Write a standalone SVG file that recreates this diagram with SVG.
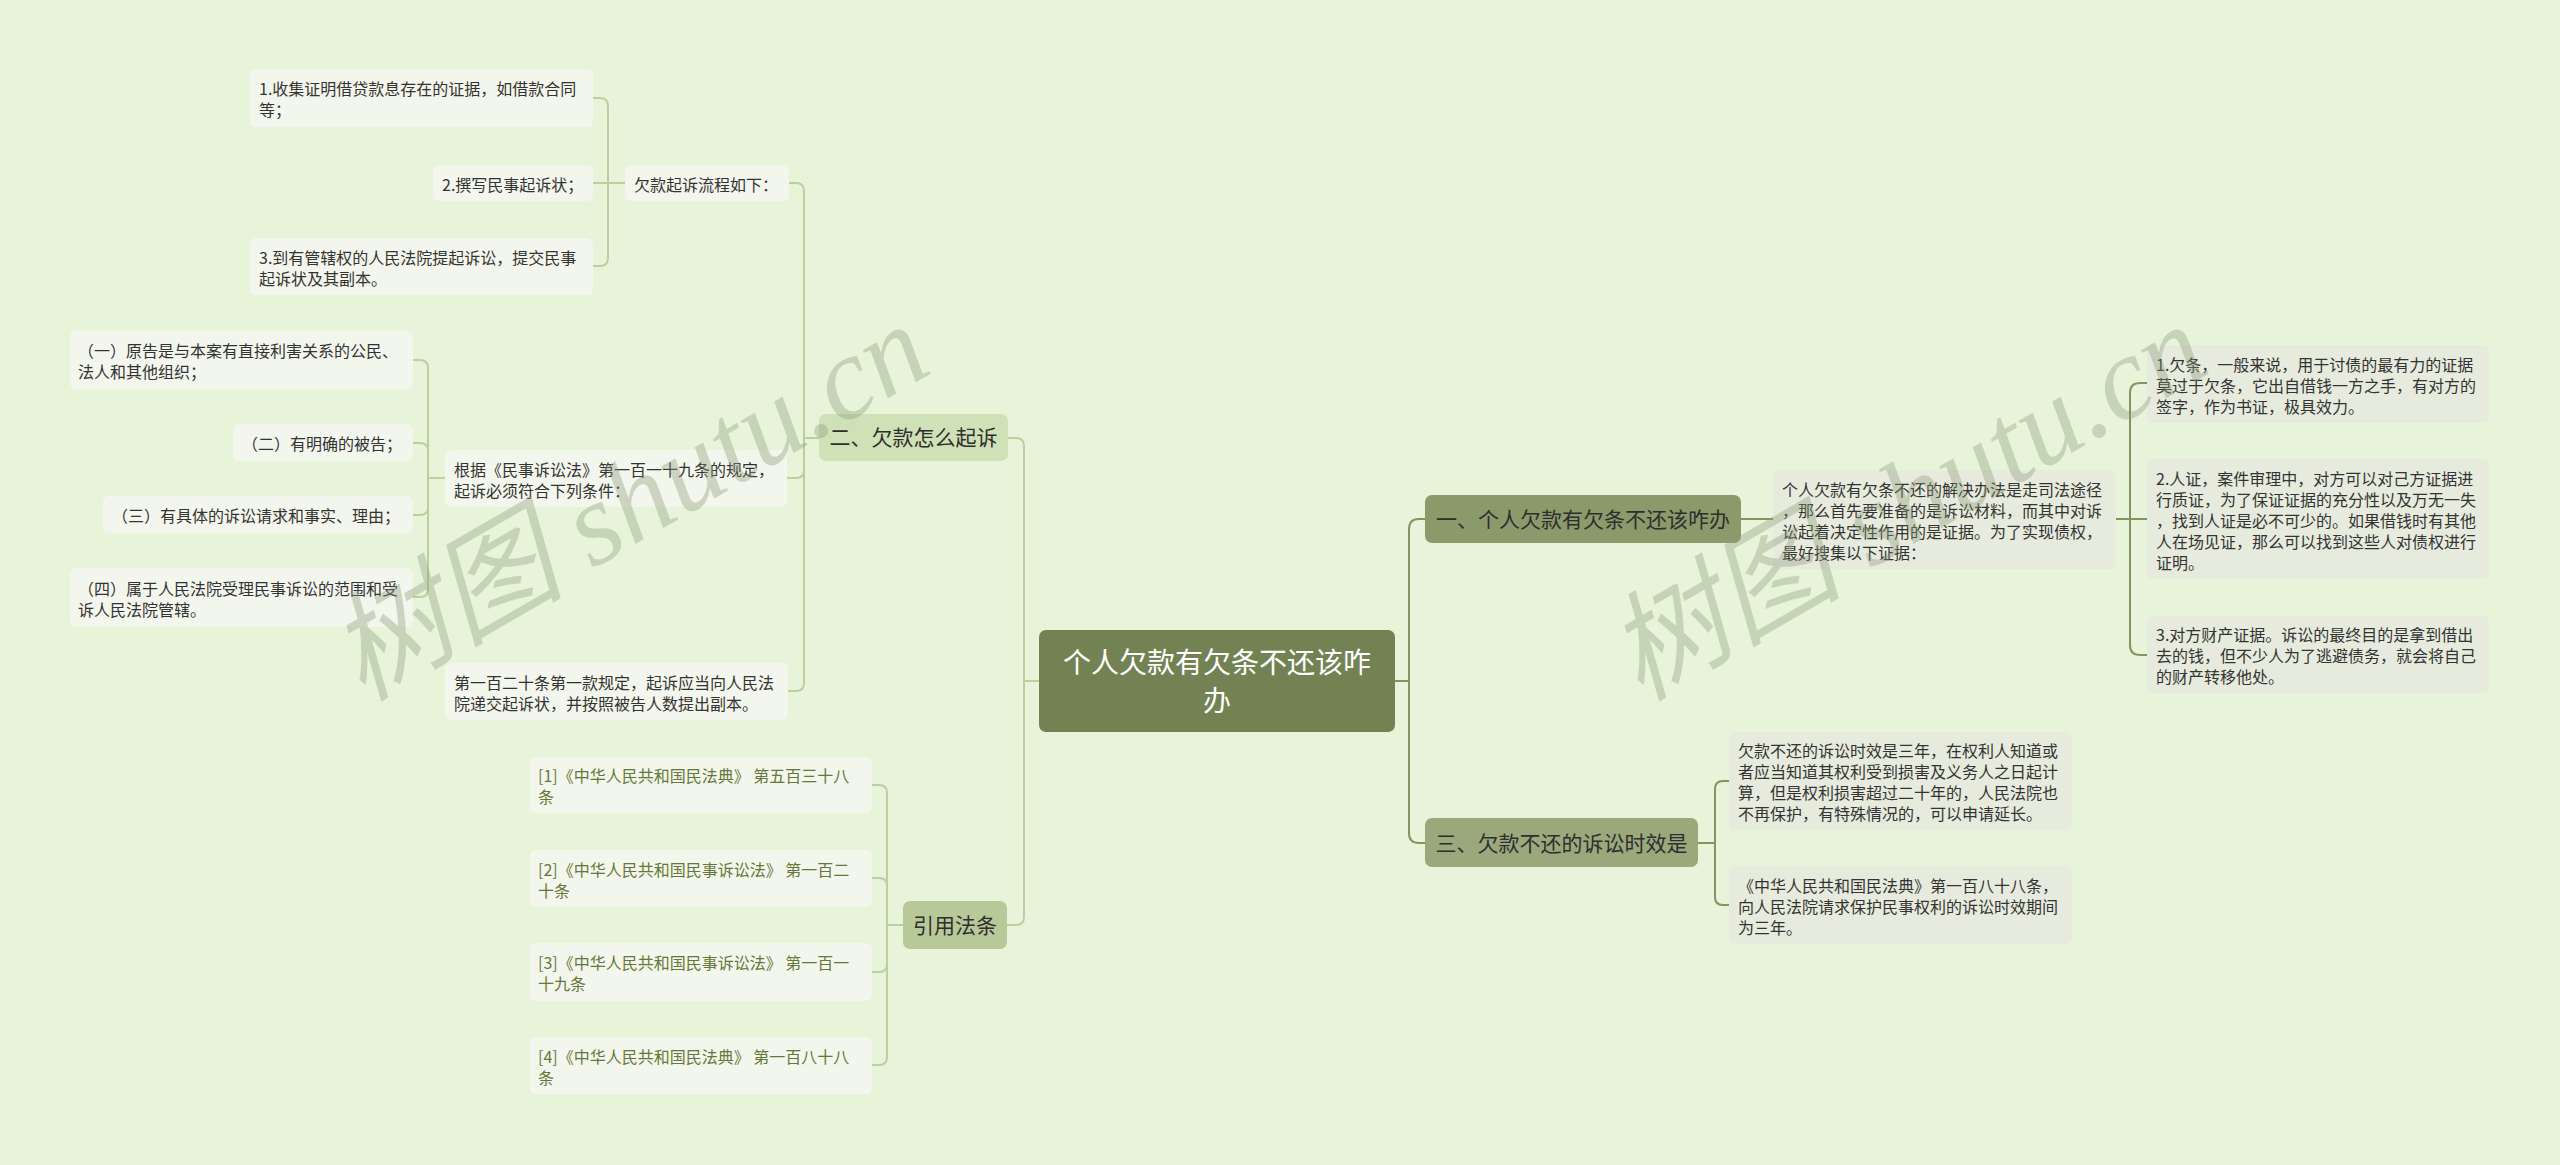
<svg xmlns="http://www.w3.org/2000/svg" width="2560" height="1165" viewBox="0 0 2560 1165">
<style>
text{font-family:"Noto Sans CJK SC","Noto Sans",sans-serif;}
.bg{fill:#e8f4da;}
.cl{fill:none;stroke:#bccf9f;stroke-width:2;}
.cr{fill:none;stroke:#84935f;stroke-width:2;}
.leafL{fill:#f3f6ec;}
.leafR{fill:#e7ebdd;}
.t16{font-size:16px;fill:#333333;}
.ref{font-size:16px;fill:#667838;}
.t21{font-size:21px;fill:#2e2e2e;text-anchor:middle;}
.root{font-size:28px;fill:#ffffff;text-anchor:middle;}
.wm{font-family:"Liberation Serif","Noto Sans CJK SC",serif;font-style:italic;font-size:118px;fill:#8a9a78;opacity:0.36;}
</style>
<rect class="bg" x="0" y="0" width="2560" height="1165"/>
<g id="connectors">
<path class="cr" d="M1395,681 H1409 V529 Q1409,519 1419,519 H1425"/>
<path class="cr" d="M1395,681 H1409 V833 Q1409,843 1419,843 H1425"/>
<path class="cr" d="M1741,519 H1773"/>
<path class="cr" d="M2116,519 H2130 V393 Q2130,383 2140,383 H2147"/>
<path class="cr" d="M2116,519 H2147"/>
<path class="cr" d="M2116,519 H2130 V645 Q2130,655 2140,655 H2147"/>
<path class="cr" d="M1698,843 H1715 V789 Q1715,781 1723,781 H1729"/>
<path class="cr" d="M1698,843 H1715 V897 Q1715,905 1723,905 H1729"/>
<path class="cl" d="M1039,681 H1024 V446 Q1024,438 1016,438 H1008"/>
<path class="cl" d="M1039,681 H1024 V917 Q1024,925 1016,925 H1007"/>
<path class="cl" d="M819,438 H804 V191 Q804,183 796,183 H789"/>
<path class="cl" d="M819,438 H804 V470 Q804,478 796,478 H787"/>
<path class="cl" d="M819,438 H804 V683 Q804,691 796,691 H788"/>
<path class="cl" d="M625,183 H608 V106 Q608,98 600,98 H593"/>
<path class="cl" d="M625,183 H593"/>
<path class="cl" d="M625,183 H608 V258 Q608,266 600,266 H593"/>
<path class="cl" d="M445,478 H428 V368 Q428,360 420,360 H413"/>
<path class="cl" d="M445,478 H428 V451 Q428,443 420,443 H413"/>
<path class="cl" d="M445,478 H428 V507 Q428,515 420,515 H413"/>
<path class="cl" d="M445,478 H428 V589 Q428,597 420,597 H413"/>
<path class="cl" d="M903,925 H887 V793 Q887,785 879,785 H872"/>
<path class="cl" d="M903,925 H887 V886 Q887,878 879,878 H872"/>
<path class="cl" d="M903,925 H887 V964 Q887,972 879,972 H872"/>
<path class="cl" d="M903,925 H887 V1057 Q887,1065 879,1065 H872"/>
</g>
<g id="root">
<rect x="1039" y="630" width="356" height="102" rx="7" fill="#738253"/>
<text class="root" x="1217" y="673">个人欠款有欠条不还该咋</text>
<text class="root" x="1217" y="711">办</text>
</g>
<g id="b1">
<rect x="1425" y="495" width="316" height="48" rx="7" fill="#8b9a6b"/>
<text class="t21" x="1583" y="527">一、个人欠款有欠条不还该咋办</text>
</g>
<g id="b3">
<rect x="1425" y="818" width="273" height="49" rx="7" fill="#9aa87c"/>
<text class="t21" x="1561.5" y="850.5">三、欠款不还的诉讼时效是</text>
</g>
<g id="b2">
<rect x="819" y="414" width="189" height="47" rx="7" fill="#cfe1b6"/>
<text class="t21" x="913.5" y="445">二、欠款怎么起诉</text>
</g>
<g id="b4">
<rect x="903" y="901" width="104" height="48" rx="7" fill="#b7c899"/>
<text class="t21" x="955" y="932.5">引用法条</text>
</g>
<g id="c0">
<rect class="leafR" x="1773" y="470" width="343" height="99" rx="6"/>
<text class="t16" x="1782" y="495.5">个人欠款有欠条不还的解决办法是走司法途径</text>
<text class="t16" x="1782" y="516.5">，那么首先要准备的是诉讼材料，而其中对诉</text>
<text class="t16" x="1782" y="537.5">讼起着决定性作用的是证据。为了实现债权，</text>
<text class="t16" x="1782" y="558.5">最好搜集以下证据：</text>
</g>
<g id="r1">
<rect class="leafR" x="2147" y="345" width="342" height="78" rx="6"/>
<text class="t16" x="2156" y="370.5">1.欠条，一般来说，用于讨债的最有力的证据</text>
<text class="t16" x="2156" y="391.5">莫过于欠条，它出自借钱一方之手，有对方的</text>
<text class="t16" x="2156" y="412.5">签字，作为书证，极具效力。</text>
</g>
<g id="r2">
<rect class="leafR" x="2147" y="459" width="342" height="120" rx="6"/>
<text class="t16" x="2156" y="484.5">2.人证，案件审理中，对方可以对己方证据进</text>
<text class="t16" x="2156" y="505.5">行质证，为了保证证据的充分性以及万无一失</text>
<text class="t16" x="2156" y="526.5">，找到人证是必不可少的。如果借钱时有其他</text>
<text class="t16" x="2156" y="547.5">人在场见证，那么可以找到这些人对债权进行</text>
<text class="t16" x="2156" y="568.5">证明。</text>
</g>
<g id="r3">
<rect class="leafR" x="2147" y="616" width="342" height="77" rx="6"/>
<text class="t16" x="2156" y="641">3.对方财产证据。诉讼的最终目的是拿到借出</text>
<text class="t16" x="2156" y="662">去的钱，但不少人为了逃避债务，就会将自己</text>
<text class="t16" x="2156" y="683">的财产转移他处。</text>
</g>
<g id="ra">
<rect class="leafR" x="1729" y="732" width="343" height="98" rx="6"/>
<text class="t16" x="1738" y="757">欠款不还的诉讼时效是三年，在权利人知道或</text>
<text class="t16" x="1738" y="778">者应当知道其权利受到损害及义务人之日起计</text>
<text class="t16" x="1738" y="799">算，但是权利损害超过二十年的，人民法院也</text>
<text class="t16" x="1738" y="820">不再保护，有特殊情况的，可以申请延长。</text>
</g>
<g id="rb">
<rect class="leafR" x="1729" y="866" width="343" height="78" rx="6"/>
<text class="t16" x="1738" y="891.5">《中华人民共和国民法典》第一百八十八条，</text>
<text class="t16" x="1738" y="912.5">向人民法院请求保护民事权利的诉讼时效期间</text>
<text class="t16" x="1738" y="933.5">为三年。</text>
</g>
<g id="n1">
<rect class="leafL" x="625" y="165" width="164" height="36" rx="6"/>
<text class="t16" x="634" y="190.5">欠款起诉流程如下：</text>
</g>
<g id="l1">
<rect class="leafL" x="250" y="69" width="343" height="58" rx="6"/>
<text class="t16" x="259" y="95">1.收集证明借贷款息存在的证据，如借款合同</text>
<text class="t16" x="259" y="116">等；</text>
</g>
<g id="l2">
<rect class="leafL" x="433" y="165" width="160" height="36" rx="6"/>
<text class="t16" x="442" y="190.5">2.撰写民事起诉状；</text>
</g>
<g id="l3">
<rect class="leafL" x="250" y="238" width="343" height="57" rx="6"/>
<text class="t16" x="259" y="263.5">3.到有管辖权的人民法院提起诉讼，提交民事</text>
<text class="t16" x="259" y="284.5">起诉状及其副本。</text>
</g>
<g id="n2">
<rect class="leafL" x="445" y="450" width="342" height="57" rx="6"/>
<text class="t16" x="454" y="475.5">根据《民事诉讼法》第一百一十九条的规定，</text>
<text class="t16" x="454" y="496.5">起诉必须符合下列条件：</text>
</g>
<g id="k1">
<rect class="leafL" x="70" y="331" width="343" height="58" rx="6"/>
<text class="t16" x="78" y="357">（一）原告是与本案有直接利害关系的公民、</text>
<text class="t16" x="78" y="378">法人和其他组织；</text>
</g>
<g id="k2">
<rect class="leafL" x="233" y="424" width="180" height="37" rx="6"/>
<text class="t16" x="242" y="450">（二）有明确的被告；</text>
</g>
<g id="k3">
<rect class="leafL" x="103" y="496" width="310" height="37" rx="6"/>
<text class="t16" x="112" y="522">（三）有具体的诉讼请求和事实、理由；</text>
</g>
<g id="k4">
<rect class="leafL" x="70" y="568" width="343" height="59" rx="6"/>
<text class="t16" x="78" y="594.5">（四）属于人民法院受理民事诉讼的范围和受</text>
<text class="t16" x="78" y="615.5">诉人民法院管辖。</text>
</g>
<g id="n3">
<rect class="leafL" x="445" y="663" width="343" height="57" rx="6"/>
<text class="t16" x="454" y="688.5">第一百二十条第一款规定，起诉应当向人民法</text>
<text class="t16" x="454" y="709.5">院递交起诉状，并按照被告人数提出副本。</text>
</g>
<g id="f1">
<rect class="leafL" x="530" y="757" width="342" height="56" rx="6"/>
<text class="ref" x="538" y="782">[1]《中华人民共和国民法典》 第五百三十八</text>
<text class="ref" x="538" y="803">条</text>
</g>
<g id="f2">
<rect class="leafL" x="530" y="850" width="342" height="57" rx="6"/>
<text class="ref" x="538" y="875.5">[2]《中华人民共和国民事诉讼法》 第一百二</text>
<text class="ref" x="538" y="896.5">十条</text>
</g>
<g id="f3">
<rect class="leafL" x="530" y="943" width="342" height="58" rx="6"/>
<text class="ref" x="538" y="969">[3]《中华人民共和国民事诉讼法》 第一百一</text>
<text class="ref" x="538" y="990">十九条</text>
</g>
<g id="f4">
<rect class="leafL" x="530" y="1037" width="342" height="57" rx="6"/>
<text class="ref" x="538" y="1062.5">[4]《中华人民共和国民法典》 第一百八十八</text>
<text class="ref" x="538" y="1083.5">条</text>
</g>
<g id="watermark">
<text class="wm" transform="translate(362,702) rotate(-30)">树图 shutu.cn</text>
<text class="wm" transform="translate(1640,702) rotate(-30)">树图 shutu.cn</text>
</g>
</svg>
